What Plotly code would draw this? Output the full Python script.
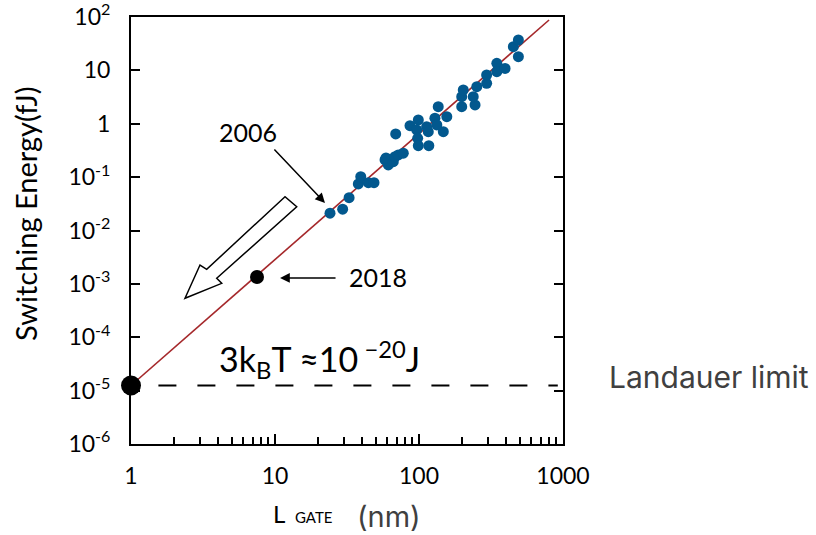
import plotly.graph_objects as go

# ---------------- data ----------------
gate_length_nm = [24.1, 29.5, 32.7, 37.9, 39.4, 44.5, 48.7, 58.1, 61.2, 59.0, 66.3, 68.1,
                  71.8, 77.8, 68.9, 86.6, 98.9, 96.4, 97.9, 98.9, 117, 116, 129, 136,
                  147.5, 156, 133, 113, 198, 198, 203, 245, 238, 252, 295, 295, 347,
                  347, 396, 452, 490, 490]
switching_energy_fJ = [0.0211, 0.0251, 0.0413, 0.0746, 0.102, 0.0789, 0.0789, 0.21, 0.169,
                       0.229, 0.195, 0.242, 0.261, 0.281, 0.644, 0.92, 1.18, 0.766, 0.535,
                       0.389, 0.389, 0.711, 1.27, 2.09, 0.711, 1.36, 0.95, 0.883, 2.09,
                       3.22, 4.3, 2.25, 3.22, 4.95, 5.73, 8.2, 13.6, 9.46, 10.9, 27.8,
                       37.1, 18.1]

trend_L = [1, 800]
trend_E = [1.25e-5, 88]

landauer_L = [1.55, 920]
landauer_E = [1.25e-5, 1.25e-5]

limit_L = [1]
limit_E = [1.25e-5]

point2018_L = [7.5]
point2018_E = [1.35e-3]

x_tickvals = [1, 10, 100, 1000]
x_ticktext = ["1", "10", "100", "1000"]
x_minor = [2, 3, 4, 5, 6, 7, 8, 9, 20, 30, 40, 50, 60, 70, 80, 90,
           200, 300, 400, 500, 600, 700, 800, 900]
y_tickvals = [1e-6, 1e-5, 1e-4, 1e-3, 1e-2, 1e-1, 1, 10, 100]
y_ticktext = ["10<sup>-6</sup>", "10<sup>-5</sup>", "10<sup>-4</sup>", "10<sup>-3</sup>",
              "10<sup>-2</sup>", "10<sup>-1</sup>", "1", "10", "10<sup>2</sup>"]

# ---------------- figure ----------------
FONT = "Lato"
fig = go.Figure()

fig.add_trace(go.Scatter(x=landauer_L, y=landauer_E, mode="lines",
                         line=dict(color="black", width=2, dash="18px,21px"),
                         hoverinfo="skip", showlegend=False))
fig.add_trace(go.Scatter(x=trend_L, y=trend_E, mode="lines",
                         line=dict(color="#A5282B", width=1.6),
                         hoverinfo="skip", showlegend=False))
fig.add_trace(go.Scatter(x=gate_length_nm, y=switching_energy_fJ, mode="markers",
                         marker=dict(color="#02588E", size=11),
                         showlegend=False))
fig.add_trace(go.Scatter(x=point2018_L, y=point2018_E, mode="markers",
                         marker=dict(color="black", size=14),
                         showlegend=False))
fig.add_trace(go.Scatter(x=limit_L, y=limit_E, mode="markers",
                         marker=dict(color="black", size=20),
                         cliponaxis=False, showlegend=False))

# hollow block arrow (decoration, paper coordinates)
fig.add_shape(type="path", xref="paper", yref="paper",
              path="M 0.3565 0.5792 L 0.1752 0.4091 L 0.1597 0.4192 L 0.125 0.3412 "
                   "L 0.2100 0.3763 L 0.1984 0.3881 L 0.3836 0.5557 Z",
              line=dict(color="black", width=1.5), fillcolor="white")

ann = []
# 2006
ann.append(dict(x=1.347, y=-1.483, xref="x", yref="y", text="", showarrow=True,
                ax=-52, ay=-55, arrowhead=2, arrowsize=1.3, arrowwidth=1.5,
                arrowcolor="black"))
ann.append(dict(x=0.809, y=-0.163, xref="x", yref="y", text="2006", showarrow=False,
                font=dict(family=FONT, size=25, color="black")))
# 2018
ann.append(dict(x=1.035, y=-2.888, xref="x", yref="y", text="", showarrow=True,
                ax=57, ay=0, arrowhead=2, arrowsize=1.3, arrowwidth=1.5,
                arrowcolor="black"))
ann.append(dict(x=1.715, y=-2.88, xref="x", yref="y", text="2018", showarrow=False,
                font=dict(family=FONT, size=25, color="black")))
# 3kT
ann.append(dict(x=0.597, y=-4.42, xref="x", yref="y", xanchor="left", yanchor="middle",
                text="3k<sub>B</sub>T \u224810<sup> \u221220</sup>J", showarrow=False,
                font=dict(family=FONT, size=34, color="black")))
# Landauer limit
ann.append(dict(x=(607 - 131) / 432, y=(444 - 377) / 427, xref="paper", yref="paper",
                xanchor="left", yanchor="middle", text="Landauer limit", showarrow=False,
                font=dict(family="Inter", size=30, color="#404040")))
# y title
ann.append(dict(x=(26 - 131) / 432, y=(444 - 214) / 427, xref="paper", yref="paper",
                xanchor="center", yanchor="middle", textangle=-90,
                text="Switching Energy(fJ)", showarrow=False,
                font=dict(family=FONT, size=29, color="black")))
# x title
ann.append(dict(x=(271 - 131) / 432, y=(444 - 513) / 427, xref="paper", yref="paper",
                xanchor="left", yanchor="middle", text="L", showarrow=False,
                font=dict(family=FONT, size=24, color="black")))
ann.append(dict(x=(293 - 131) / 432, y=(444 - 517) / 427, xref="paper", yref="paper",
                xanchor="left", yanchor="middle", text="GATE", showarrow=False,
                font=dict(family=FONT, size=15, color="black")))
ann.append(dict(x=(355 - 131) / 432, y=(444 - 516) / 427, xref="paper", yref="paper",
                xanchor="left", yanchor="middle", text="(nm)", showarrow=False,
                font=dict(family="Inter", size=29, color="#404040")))

fig.update_layout(
    width=816, height=535,
    margin=dict(l=131, r=253, t=17, b=91),
    paper_bgcolor="white", plot_bgcolor="white",
    annotations=ann,
    xaxis=dict(type="log", range=[0, 3], tickvals=x_tickvals, ticktext=x_ticktext,
               ticks="inside", ticklen=10, tickwidth=2, tickcolor="black",
               showline=True, linecolor="black", linewidth=2, mirror=True,
               showgrid=False, zeroline=False, ticklabelstandoff=10,
               ticklabeloverflow="allow", automargin=False,
               tickfont=dict(family=FONT, size=23, color="black"),
               minor=dict(tickvals=x_minor, ticks="inside", ticklen=7, tickwidth=1.5,
                          tickcolor="black", showgrid=False)),
    yaxis=dict(type="log", range=[-6, 2.0005], tickvals=y_tickvals, ticktext=y_ticktext,
               ticks="inside", ticklen=9, tickwidth=2, tickcolor="black",
               showline=True, linecolor="black", linewidth=2, mirror="ticks",
               showgrid=False, zeroline=False, ticklabelstandoff=14,
               ticklabeloverflow="allow", automargin=False,
               tickfont=dict(family=FONT, size=23, color="black")),
)

fig.write_html("out.html")
